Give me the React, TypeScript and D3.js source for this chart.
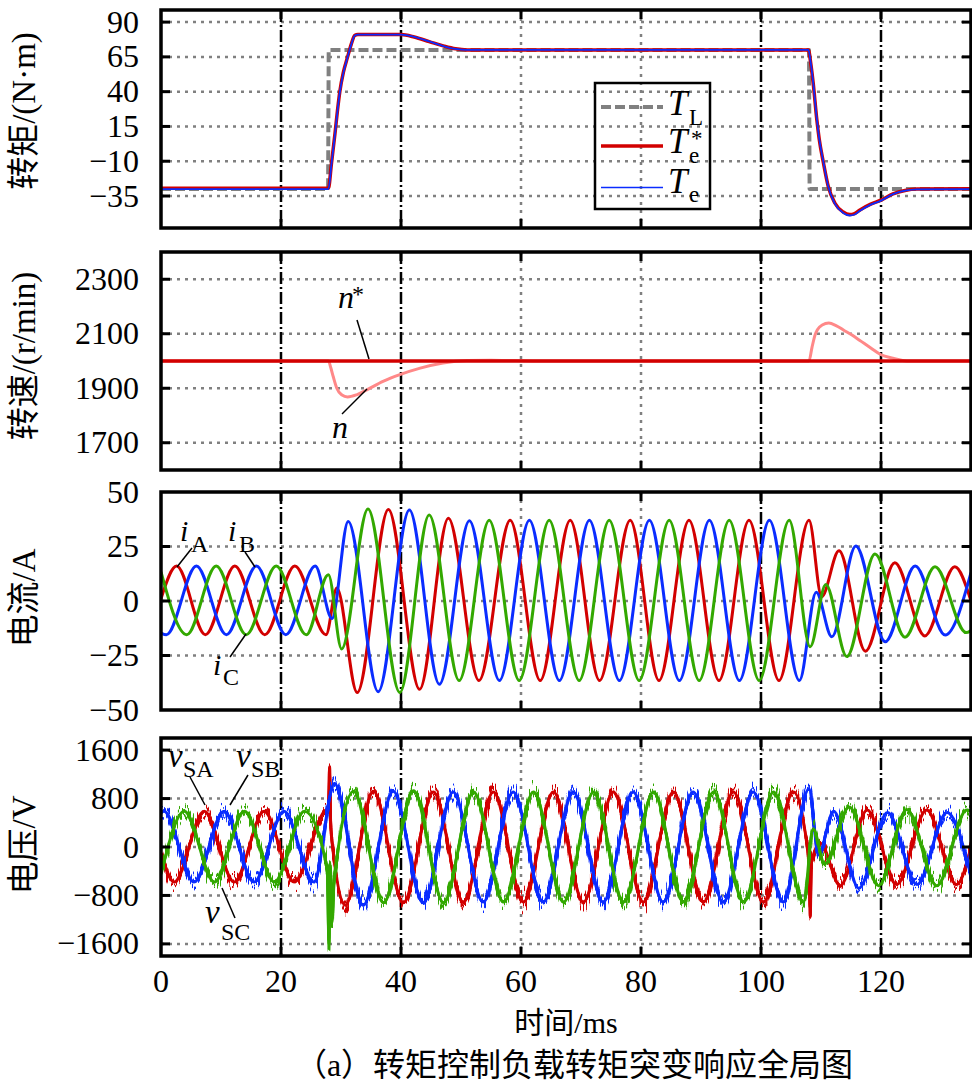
import * as d3 from 'd3'
import type { ReactNode } from 'react'

type Pt = [number, number]

// time axis, ms
const timeTicks = [0, 20, 40, 60, 80, 100, 120]
const eventLines = [20, 40, 100, 120]

const torqueTicks = [90, 65, 40, 15, -10, -35]
const speedTicks = [2300, 2100, 1900, 1700]
const currentTicks = [50, 25, 0, -25, -50]
const voltageTicks = [1600, 800, 0, -800, -1600]

// torque, N·m
const loadTorque: Pt[] = [[0, -30], [27.85, -30], [27.95, 70], [108.0, 70], [108.1, -30], [135, -30]]
const torqueRef: Pt[] = [
  [0, -29.5], [27.9, -29.5], [28.4, -12], [29.0, 10], [29.4, 26], [29.8, 40], [30.4, 54], [31.1, 65],
  [31.7, 74], [32.3, 80.5], [32.8, 81], [40, 81], [42.2, 79.3], [44.7, 76], [47.2, 72.7], [49.1, 70.8],
  [51, 70], [107.9, 70], [108.3, 60], [108.7, 46], [109.3, 20], [109.7, 6], [110.4, -11], [111.2, -28],
  [112.3, -40], [113.7, -46.5], [114.8, -48.3], [115.6, -47.6], [116.5, -45], [118.2, -41], [120, -38],
  [122, -33.5], [124, -31], [126, -30], [135, -29.8],
]
const torqueMeas: Pt[] = [
  [0, -30], [27.9, -30], [28.4, -12.5], [29.0, 9.5], [29.4, 25.5], [29.8, 39.5], [30.4, 53.5], [31.1, 64.8],
  [31.7, 73.8], [32.3, 80.3], [32.8, 81], [40, 81], [42.2, 79.4], [44.7, 76.1], [47.2, 72.6], [49.1, 70.7],
  [51, 70], [107.9, 70], [108.3, 60.5], [108.7, 46.5], [109.3, 20.5], [109.7, 6.5], [110.4, -10.5], [111.2, -28],
  [112.3, -40.5], [113.7, -47.2], [114.8, -49], [115.6, -48.3], [116.5, -45.6], [118.2, -41.4], [120, -38.3],
  [122, -33.7], [124, -31.2], [126, -30.2], [135, -30],
]

// speed, r/min
const speedRef: Pt[] = [[0, 2000], [135, 2000]]
const speedMeas: Pt[] = [
  [0, 2000], [27.9, 2000], [28.3, 1975], [28.7, 1943], [29.3, 1900], [30.1, 1876], [31.1, 1868], [32.6, 1876],
  [34.3, 1894], [37, 1925], [39.8, 1950], [43.2, 1974], [47, 1993], [51, 2002], [55, 2003], [59, 2001.5],
  [63, 2000], [108.0, 2000], [108.5, 2050], [109.0, 2095], [109.4, 2115], [110.2, 2132], [111.3, 2139],
  [112.5, 2130], [113.8, 2113], [115.1, 2096], [116.7, 2072], [118.3, 2048], [120, 2023], [122, 2010],
  [123.6, 2002], [125, 2000], [135, 2000],
]

// phase currents, A (peaks and troughs)
const iA: Pt[] = [
  [0, 1], [2.6, 16], [7.4, -15.5], [12.3, 16], [17.3, -15.5], [22.3, 16], [27.5, -15.5], [29.3, 6],
  [32.7, -42], [37.9, 42], [43.1, -40.5], [47.9, 38], [53.0, -36.5], [58.2, 37], [63.2, -36.5], [68.2, 37],
  [73.1, -36.5], [78.2, 37], [83.0, -36.5], [88.0, 37], [93.0, -36.5], [98.0, 37], [103.0, -36.5], [108.0, 37],
  [110.1, 2], [113.0, 23], [117.4, -23], [122.3, 17.5], [127.3, -16], [132.3, 15.7], [135, 0],
]
const iB: Pt[] = [
  [0, -14.7], [0.9, -15.5], [5.9, 16], [10.9, -15.5], [15.9, 16], [20.8, -15.5], [25.7, 16], [28.5, -8],
  [31.2, 36.5], [36.2, -41.6], [41.4, 41.7], [46.4, -38.2], [51.4, 36.8], [56.4, -36.5], [61.4, 37], [66.4, -36.5],
  [71.4, 37], [76.4, -36.5], [81.4, 37], [86.4, -36.5], [91.4, 37], [96.4, -36.5], [101.4, 37], [106.4, -36.5],
  [109.2, 4], [111.8, -16.4], [115.8, 25.2], [120.7, -18.7], [125.7, 16], [130.7, -15.6], [135, 13],
]
const iC: Pt[] = [
  [0, 13.4], [4.3, -15.5], [9.2, 16], [14.2, -15.5], [19.2, 16], [24.2, -15.5], [27.9, 12], [30.1, -22],
  [34.5, 42.2], [39.8, -42], [44.7, 39.4], [49.7, -36.5], [54.7, 37], [59.7, -36.5], [64.7, 37], [69.7, -36.5],
  [74.7, 37], [79.7, -36.5], [84.7, 37], [89.7, -36.5], [94.7, 37], [99.7, -36.5], [104.7, 37], [108.2, -21],
  [110.8, 7.6], [114.3, -25.5], [119, 21.6], [124, -16.6], [129, 15.7], [134.2, -14.5], [135, -13.5],
]

// stator voltages, V (centre of the PWM band)
const vSA: Pt[] = [
  [0, -100], [2.2, -580], [7.2, 590], [12.2, -580], [17.2, 590], [22.2, -580], [27.2, 590], [27.9, 650],
  [28.1, 1330], [28.3, 300], [30.7, -960], [35.4, 920], [40.4, -920], [45.4, 910], [50.4, -910], [55.4, 910],
  [60.4, -910], [65.4, 910], [70.4, -910], [75.4, 910], [80.4, -910], [85.4, 910], [90.4, -910], [95.4, 910],
  [100.4, -910], [105.4, 910], [108.0, -250], [108.2, -1150], [108.4, -250], [109.9, 60], [113.2, -640],
  [117.7, 610], [122.6, -620], [127.6, 610], [132.6, -620], [135, 0],
]
const vSB: Pt[] = [
  [0, 560], [0.5, 590], [5.5, -580], [10.5, 590], [15.5, -580], [20.5, 590], [25.5, -580], [28.9, 1050],
  [33.7, -960], [38.7, 920], [43.7, -920], [48.7, 910], [53.7, -910], [58.7, 910], [63.7, -910], [68.7, 910],
  [73.7, -910], [78.7, 910], [83.7, -910], [88.7, 910], [93.7, -910], [98.7, 910], [103.7, -910], [108.0, 960],
  [109.6, -120], [112.1, 590], [116.3, -680], [121.1, 570], [126, -620], [131, 570], [135, -480],
]
const vSC: Pt[] = [
  [0, -450], [3.9, 590], [8.9, -580], [13.9, 590], [18.9, -580], [23.9, 590], [27.7, -350], [28.0, -1600],
  [28.2, -300], [28.5, -1250], [28.8, -650], [32.1, 920], [37.1, -920], [42.1, 930], [47.1, -920], [52.1, 910],
  [57.1, -910], [62.1, 910], [67.1, -910], [72.1, 910], [77.1, -910], [82.1, 910], [87.1, -910], [92.1, 910],
  [97.1, -910], [102.1, 910], [107.1, -910], [108.7, 300], [110.6, -280], [114.7, 660], [119.6, -640],
  [124.3, 620], [129.3, -640], [134.3, 610], [135, 590],
]

const SERIF = '"Liberation Serif", "Times New Roman", Times, "DejaVu Serif", "Noto Sans CJK SC", serif'
const RED = '#d20000'
const BLUE = '#0a2cff'
const GREEN = '#33a800'
const PINK = '#ff8888'
const GREY = '#808080'

const x = d3.scaleLinear().domain([0, 135]).range([161, 971])
const X0 = x(0)
const X1 = x(135)

const yTorque = d3.scaleLinear().domain([-58, 98.7]).range([228, 10])
const ySpeed = d3.scaleLinear().domain([1600, 2400]).range([470, 252])
const yCurrent = d3.scaleLinear().domain([-50, 50]).range([710, 492])
const yVoltage = d3.scaleLinear().domain([-1800, 1800]).range([956, 738])

const fmt = (v: number) => (v < 0 ? '\u2212' + Math.abs(v) : String(v))

function pathOf(y: d3.ScaleLinear<number, number>, pts: Pt[], smooth = true) {
  const line = d3.line<Pt>()
    .x(d => x(d[0]))
    .y(d => y(d[1]))
    .curve(smooth ? d3.curveMonotoneX : d3.curveLinear)
  return line(pts) || ''
}

interface PanelProps {
  id: string
  y: d3.ScaleLinear<number, number>
  ticks: number[]
  title: string
  titleY: number
  children: ReactNode
}

function Panel({ id, y, ticks, title, titleY, children }: PanelProps) {
  const [yb, yt] = y.range()
  const inner = ticks.filter(t => y(t) > yt + 3 && y(t) < yb - 3)
  return (
    <g>
      <clipPath id={`clip-${id}`}>
        <rect x={X0} y={yt} width={X1 - X0} height={yb - yt} />
      </clipPath>
      {inner.map(t => (
        <line key={`h${t}`} x1={X0} x2={X1} y1={y(t)} y2={y(t)} stroke={GREY} strokeWidth={2.5} strokeDasharray="3,5" />
      ))}
      {timeTicks.slice(1).map(t =>
        eventLines.includes(t) ? (
          <line key={`v${t}`} x1={x(t)} x2={x(t)} y1={yt} y2={yb} stroke="#000" strokeWidth={2.5} strokeDasharray="12,3,2,3" />
        ) : (
          <line key={`v${t}`} x1={x(t)} x2={x(t)} y1={yt} y2={yb} stroke={GREY} strokeWidth={2.5} strokeDasharray="3,5" />
        )
      )}
      <g clipPath={`url(#clip-${id})`}>{children}</g>
      {inner.map(t => (
        <g key={`t${t}`}>
          <line x1={X0} x2={X0 + 9} y1={y(t)} y2={y(t)} stroke="#000" strokeWidth={3} />
          <line x1={X1 - 9} x2={X1} y1={y(t)} y2={y(t)} stroke="#000" strokeWidth={3} />
        </g>
      ))}
      {timeTicks.slice(1).map(t => (
        <g key={`xt${t}`}>
          <line x1={x(t)} x2={x(t)} y1={yt} y2={yt + 9} stroke="#000" strokeWidth={3} />
          <line x1={x(t)} x2={x(t)} y1={yb - 9} y2={yb} stroke="#000" strokeWidth={3} />
        </g>
      ))}
      <rect x={X0} y={yt} width={X1 - X0} height={yb - yt} fill="none" stroke="#000" strokeWidth={3.5} />
      {ticks.map(t => (
        <text key={`l${t}`} x={139} y={y(t) + 10.5} textAnchor="end" fontSize={32}>
          {fmt(t)}
        </text>
      ))}
      <text
        transform={`translate(24,${titleY}) rotate(-90)`}
        textAnchor="middle"
        dominantBaseline="central"
        fontSize={33}
      >
        {title}
      </text>
    </g>
  )
}

function NoiseFilter({ id, seed }: { id: string; seed: number }) {
  return (
    <filter id={id} filterUnits="userSpaceOnUse" x={150} y={725} width={830} height={245} colorInterpolationFilters="sRGB">
      <feTurbulence type="fractalNoise" baseFrequency="0.75 0.03" numOctaves={2} seed={seed} result="n" />
      <feColorMatrix in="n" type="matrix" values="0 0 0 0 0.5  0 1 0 0 0  0 0 0 0 0  0 0 0 0 1" result="m" />
      <feDisplacementMap in="SourceGraphic" in2="m" scale={34} xChannelSelector="R" yChannelSelector="G" />
    </filter>
  )
}

// label with a sub/superscript, kept as one text element
function SubLabel({ x0, y0, main, sub, subDx, subDy, sup, size, subSize }: {
  x0: number; y0: number; main: string; sub: string; subDx: number; subDy: number
  sup?: string; size: number; subSize: number
}) {
  return (
    <text x={x0} y={y0} fontSize={size}>
      <tspan fontStyle="italic">{main}</tspan>
      {sup && <tspan x={x0 + subDx + 2} y={y0 - 7} fontSize={subSize}>{sup}</tspan>}
      <tspan x={x0 + subDx} y={y0 + subDy} fontSize={subSize}>{sub}</tspan>
    </text>
  )
}

export default function App() {
  const voltages: [Pt[], string][] = [[vSA, RED], [vSB, BLUE], [vSC, GREEN]]
  const currents: [Pt[], string][] = [[iA, RED], [iB, BLUE], [iC, GREEN]]
  return (
    <svg
      width={972}
      height={1082}
      viewBox="0 0 972 1082"
      style={{ position: 'absolute', left: 0, top: 0, background: '#fff', fontFamily: SERIF }}
    >
      <defs>
        <NoiseFilter id="pwm1" seed={3} />
        <NoiseFilter id="pwm2" seed={11} />
      </defs>
      <rect width={972} height={1082} fill="#fff" />

      <Panel id="torque" y={yTorque} ticks={torqueTicks} title="转矩/(N·m)" titleY={111}>
        <path d={pathOf(yTorque, loadTorque, false)} fill="none" stroke={GREY} strokeWidth={4} strokeDasharray="10,4" strokeLinejoin="round" />
        <path d={pathOf(yTorque, torqueRef)} fill="none" stroke={RED} strokeWidth={3.5} />
        <path d={pathOf(yTorque, torqueMeas)} fill="none" stroke={BLUE} strokeWidth={1.8} />
      </Panel>

      <Panel id="speed" y={ySpeed} ticks={speedTicks} title="转速/(r/min)" titleY={356}>
        <path d={pathOf(ySpeed, speedMeas)} fill="none" stroke={PINK} strokeWidth={3} />
        <path d={pathOf(ySpeed, speedRef, false)} fill="none" stroke={RED} strokeWidth={3.5} />
      </Panel>

      <Panel id="current" y={yCurrent} ticks={currentTicks} title="电流/A" titleY={598}>
        {currents.map(([pts, c], i) => (
          <path key={i} d={pathOf(yCurrent, pts)} fill="none" stroke={c} strokeWidth={3} />
        ))}
      </Panel>

      <Panel id="voltage" y={yVoltage} ticks={voltageTicks} title="电压/V" titleY={845}>
        {voltages.map(([pts, c], i) => (
          <g key={i}>
            <path d={pathOf(yVoltage, pts)} fill="none" stroke={c} strokeWidth={3} />
            <path d={pathOf(yVoltage, pts)} fill="none" stroke={c} strokeWidth={2.6} filter="url(#pwm1)" />
            <path d={pathOf(yVoltage, pts)} fill="none" stroke={c} strokeWidth={2.6} filter="url(#pwm2)" />
          </g>
        ))}
      </Panel>

      {/* legend, torque panel */}
      <g>
        <rect x={595} y={83} width={115} height={126} fill="none" stroke="#000" strokeWidth={2.5} />
        <line x1={601} x2={663} y1={107} y2={107} stroke={GREY} strokeWidth={4} strokeDasharray="10,4" />
        <line x1={601} x2={663} y1={146} y2={146} stroke={RED} strokeWidth={3.5} />
        <line x1={601} x2={663} y1={187.5} y2={187.5} stroke={BLUE} strokeWidth={1.5} />
        <SubLabel x0={668} y0={115} main="T" sub="L" subDx={21} subDy={10} size={35} subSize={23} />
        <SubLabel x0={668} y0={153} main="T" sub="e" sup="*" subDx={21} subDy={10} size={35} subSize={23} />
        <SubLabel x0={668} y0={193} main="T" sub="e" subDx={21} subDy={9} size={35} subSize={23} />
      </g>

      {/* speed annotations */}
      <g>
        <text x={338} y={308} fontSize={32}>
          <tspan fontStyle="italic">n</tspan>
          <tspan x={352} y={302} fontSize={24}>*</tspan>
        </text>
        <line x1={357} y1={320} x2={369} y2={359} stroke="#000" strokeWidth={1.5} />
        <text x={332} y={438} fontSize={32} fontStyle="italic">n</text>
        <line x1={342} y1={414} x2={367} y2={389} stroke="#000" strokeWidth={1.5} />
      </g>

      {/* current annotations */}
      <g>
        <SubLabel x0={180} y0={541} main="i" sub="A" subDx={11} subDy={11} size={30} subSize={24} />
        <line x1={192} y1={548} x2={177} y2={567} stroke="#000" strokeWidth={1.5} />
        <SubLabel x0={228} y0={541} main="i" sub="B" subDx={11} subDy={11} size={30} subSize={24} />
        <line x1={245} y1={552} x2={255} y2={567} stroke="#000" strokeWidth={1.5} />
        <SubLabel x0={213} y0={675} main="i" sub="C" subDx={10} subDy={10} size={30} subSize={24} />
        <line x1={230} y1={657} x2={246} y2={634} stroke="#000" strokeWidth={1.5} />
      </g>

      {/* voltage annotations */}
      <g>
        <SubLabel x0={168} y0={767} main="v" sub="SA" subDx={15} subDy={10} size={33} subSize={24} />
        <line x1={190} y1={777} x2={205} y2={805} stroke="#000" strokeWidth={1.5} />
        <SubLabel x0={236} y0={767} main="v" sub="SB" subDx={15} subDy={10} size={33} subSize={24} />
        <line x1={248} y1={775} x2={230} y2={805} stroke="#000" strokeWidth={1.5} />
        <SubLabel x0={205} y0={923} main="v" sub="SC" subDx={16} subDy={17} size={33} subSize={24} />
        <line x1={235} y1={918} x2={222} y2={888} stroke="#000" strokeWidth={1.5} />
      </g>

      {/* time axis */}
      {timeTicks.map(t => (
        <text key={t} x={x(t)} y={992} textAnchor="middle" fontSize={32}>{t}</text>
      ))}
      <text x={566} y={1033} textAnchor="middle" fontSize={30}>时间/ms</text>
      <text x={574} y={1076} textAnchor="middle" fontSize={32}>（a）转矩控制负载转矩突变响应全局图</text>
    </svg>
  )
}
